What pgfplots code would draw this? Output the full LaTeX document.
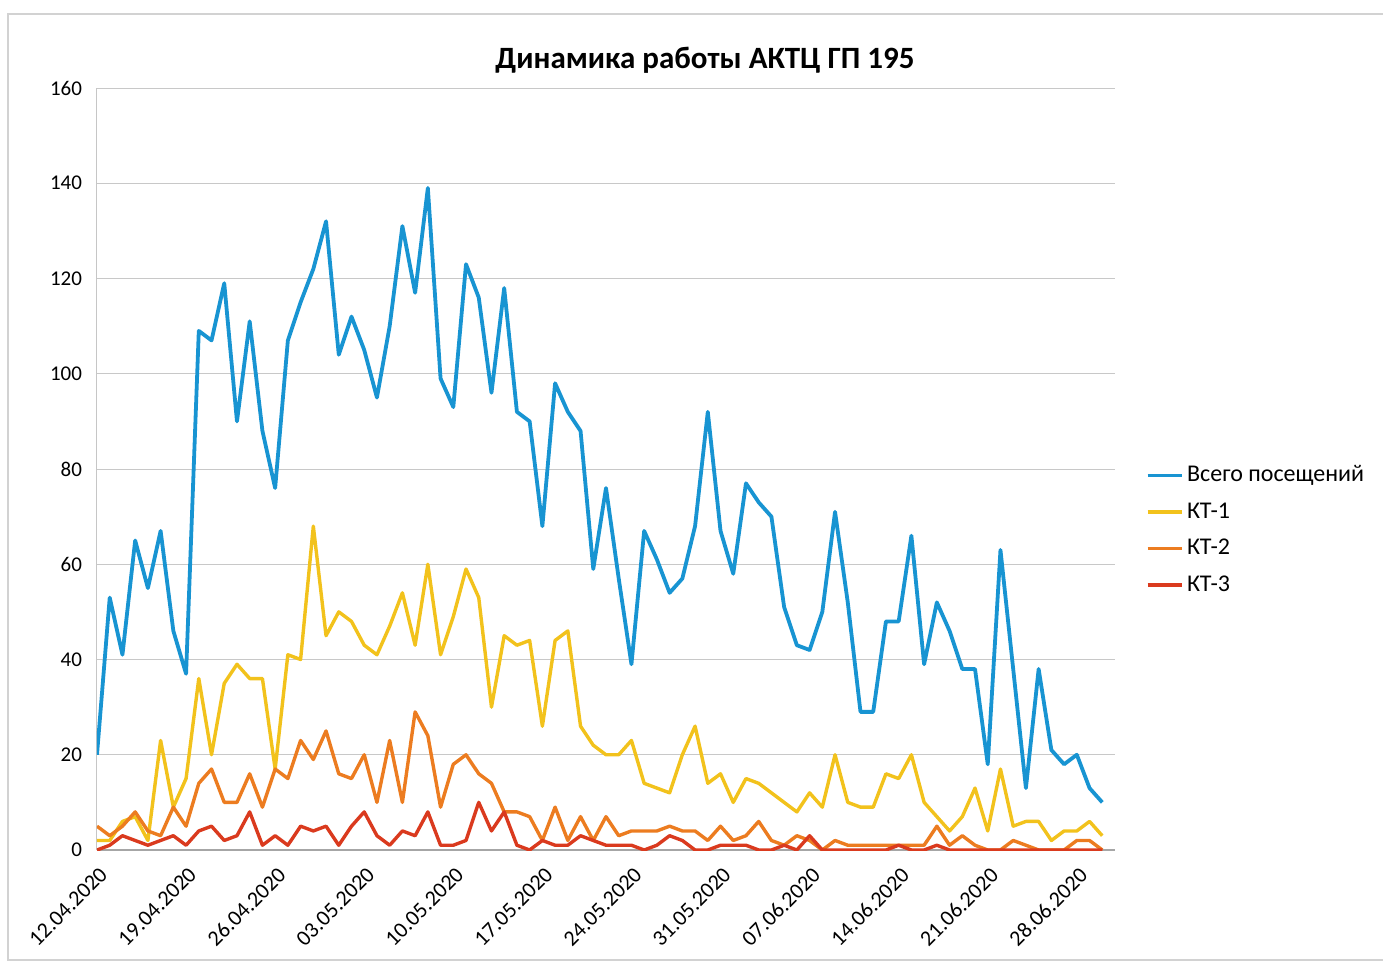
\documentclass[border=0pt]{standalone}
\usepackage{fontspec}
\setmainfont{Carlito}
\usepackage{pgfplots}
\pgfplotsset{compat=1.18}
\usepackage{pgfplotstable}
\definecolor{cBlue}{RGB}{24,148,210}
\definecolor{cYellow}{RGB}{242,194,28}
\definecolor{cOrange}{RGB}{236,124,32}
\definecolor{cRed}{RGB}{218,58,30}
\definecolor{cGrid}{RGB}{200,200,200}
\pgfplotstableread{
day total kt1 kt2 kt3
0 20 2 5 0
1 53 2 3 1
2 41 6 5 3
3 65 7 8 2
4 55 2 4 1
5 67 23 3 2
6 46 9 9 3
7 37 15 5 1
8 109 36 14 4
9 107 20 17 5
10 119 35 10 2
11 90 39 10 3
12 111 36 16 8
13 88 36 9 1
14 76 17 17 3
15 107 41 15 1
16 115 40 23 5
17 122 68 19 4
18 132 45 25 5
19 104 50 16 1
20 112 48 15 5
21 105 43 20 8
22 95 41 10 3
23 110 47 23 1
24 131 54 10 4
25 117 43 29 3
26 139 60 24 8
27 99 41 9 1
28 93 49 18 1
29 123 59 20 2
30 116 53 16 10
31 96 30 14 4
32 118 45 8 8
33 92 43 8 1
34 90 44 7 0
35 68 26 2 2
36 98 44 9 1
37 92 46 2 1
38 88 26 7 3
39 59 22 2 2
40 76 20 7 1
41 57 20 3 1
42 39 23 4 1
43 67 14 4 0
44 61 13 4 1
45 54 12 5 3
46 57 20 4 2
47 68 26 4 0
48 92 14 2 0
49 67 16 5 1
50 58 10 2 1
51 77 15 3 1
52 73 14 6 0
53 70 12 2 0
54 51 10 1 1
55 43 8 3 0
56 42 12 2 3
57 50 9 0 0
58 71 20 2 0
59 52 10 1 0
60 29 9 1 0
61 29 9 1 0
62 48 16 1 0
63 48 15 1 1
64 66 20 1 0
65 39 10 1 0
66 52 7 5 1
67 46 4 1 0
68 38 7 3 0
69 38 13 1 0
70 18 4 0 0
71 63 17 0 0
72 38 5 2 0
73 13 6 1 0
74 38 6 0 0
75 21 2 0 0
76 18 4 0 0
77 20 4 2 0
78 13 6 2 0
79 10 3 0 0
}\data
\begin{document}
\begin{tikzpicture}[x=1pt,y=1pt]
\useasboundingbox (0,0) rectangle (691.5,483);
\draw[gray!35, line width=0.6pt] (4,3) rectangle (720,476);
\node[font=\bfseries\fontsize{15.5}{18}\selectfont] at (352.5,453) {Динамика работы АКТЦ ГП 195};
\begin{axis}[
  at={(48.5pt,58pt)}, anchor=south west,
  scale only axis, width=509pt, height=381pt,
  xmin=0, xmax=80, ymin=0, ymax=160,
  ytick={0,20,...,160},
  xtick={0,7,...,77},
  xticklabels={12.04.2020,19.04.2020,26.04.2020,03.05.2020,10.05.2020,17.05.2020,24.05.2020,31.05.2020,07.06.2020,14.06.2020,21.06.2020,28.06.2020},
  xticklabel style={rotate=45, anchor=north east, font=\fontsize{11}{12}\selectfont, inner sep=1pt, xshift=-4pt, yshift=-5pt},
  yticklabel style={font=\fontsize{10.5}{12}\selectfont, xshift=-4pt},
  /pgf/number format/assume math mode=true,
  ymajorgrids, grid style={cGrid, line width=0.5pt},
  axis x line*=bottom, axis y line*=left,
  x axis line style={-, gray!70, line width=0.6pt},
  y axis line style={-, gray!45, line width=0.5pt},
  major tick length=0pt,
  legend style={at={(1.03,0.42)}, anchor=west, draw=none, fill=none,
    font=\fontsize{12}{14}\selectfont, row sep=5pt, inner sep=0pt},
  legend cell align=left,
  legend image code/.code={\draw[#1, line width=1.6pt] (0pt,0pt) -- (17pt,0pt);},
  every axis plot/.append style={line join=round},
]
\addplot[cBlue, line width=1.9pt] table[x=day, y=total] {\data};
\addlegendentry{Всего посещений}
\addplot[cYellow, line width=1.7pt] table[x=day, y=kt1] {\data};
\addlegendentry{КТ-1}
\addplot[cOrange, line width=1.7pt] table[x=day, y=kt2] {\data};
\addlegendentry{КТ-2}
\addplot[cRed, line width=1.7pt] table[x=day, y=kt3] {\data};
\addlegendentry{КТ-3}
\end{axis}
\end{tikzpicture}
\end{document}
